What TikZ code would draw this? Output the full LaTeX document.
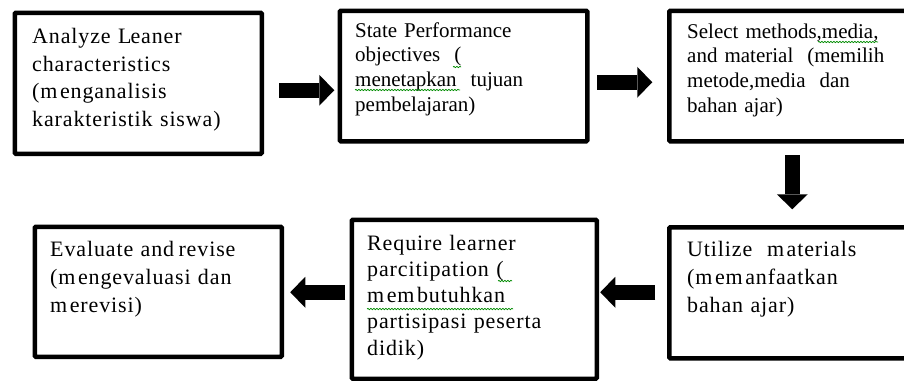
\documentclass[tikz,border=0pt]{standalone}
\usepackage{fontspec}
\setmainfont{Liberation Serif}
\newfontfamily\spacedserif[LetterSpace=4]{Liberation Serif}
\usetikzlibrary{arrows.meta,calc,decorations.pathmorphing}
\begin{document}
\begin{tikzpicture}[x=1pt,y=-1pt,
  box/.style={draw=black,line width=4.5pt,rounded corners=1pt,fill=white,anchor=north west,inner sep=0pt},
  bigtxt/.style={anchor=base west,inner sep=0pt,text width=240pt,align=left,
     font=\spacedserif\fontsize{22}{27.8}\selectfont},
  smalltxt/.style={anchor=base west,inner sep=0pt,text width=240pt,align=left,
     font=\fontsize{21}{24.6}\selectfont},
  blk/.style={line width=15pt,-{Triangle[width=31pt,length=15pt,line width=0pt]}},
  squig/.style={draw=green!55!black,line width=0.7pt,decorate,
     decoration={snake,segment length=3pt,amplitude=0.7pt}}]
\useasboundingbox (0,0) rectangle (904,380);
\begin{scope}
\clip (0,0) rectangle (904,380);
% boxes
\node[box,minimum width=247pt,minimum height=141pt] (b1) at (12.5,10.5) {};
\node[box,minimum width=247.5pt,minimum height=130.5pt] (b2) at (337.5,8.5) {};
\node[box,minimum width=290pt,minimum height=130.5pt] (b3) at (667,8.5) {};
\node[box,minimum width=290pt,minimum height=131pt] (b4) at (667,225) {};
\node[box,minimum width=245pt,minimum height=159pt] (b5) at (349.5,217.5) {};
\node[box,minimum width=247pt,minimum height=130pt] (b6) at (32.5,224.5) {};
% texts
\node[bigtxt] (t1) at (32,43.3) {Analyze L\kern-1pt eaner\\characteristics\\(m\kern2.5pt enganalisis\\karakteristik siswa)};
\node[smalltxt] (t2) at (355,37.3) {State Performance\\objectives \ (\\menetapkan \ tujuan\\pembelajaran)};
\node[smalltxt] (t3) at (687,38.3) {Select methods,media,\\and material \ (memilih\\metode,media \ dan\\bahan ajar)};
\node[bigtxt] (t4) at (687,256.7) {Utilize \ m\kern2.5pt aterials\\(m\kern2.5pt em\kern2.5pt anfaatkan\\bahan ajar)};
\node[bigtxt,font=\spacedserif\fontsize{22}{26.3}\selectfont] (t5) at (367,250) {Require learner\\parcitipation (\\m\kern2.5pt em\kern2.5pt butuhkan\\partisipasi peserta\\didik)};
\node[bigtxt] (t6) at (50,256.7) {Evaluate and\kern-3pt\ revise\\(m\kern2.5pt engevaluasi dan\\m\kern2.5pt erevisi)};
% spell-check squiggles
\draw[squig] (453,67) -- (461,67);
\draw[squig] (355,90) -- (460,90);
\draw[squig] (818,42) -- (878,42);
\draw[squig] (498,281) -- (512,281);
\draw[squig] (367,309) -- (513,309);
% arrows
\draw[blk] ($(b1.east)+(15.25,7)$) -- ($(b2.west)+(-3.25,14.25)$);
\draw[blk] ($(b2.east)+(7.75,6.25)$) -- ($(b3.west)+(-14.75,6.25)$);
\draw[blk] ($(b3.south west)+(125.25,11.75)$) -- ($(b4.north west)+(125.25,-15.75)$);
\draw[blk] ($(b4.west)+(-11.75,-0.5)$) -- ($(b5.east)+(1.25,-7)$);
\draw[blk] ($(b5.west)+(-4.25,-7)$) -- ($(b6.east)+(6.25,0.5)$);
\end{scope}
\end{tikzpicture}
\end{document}
